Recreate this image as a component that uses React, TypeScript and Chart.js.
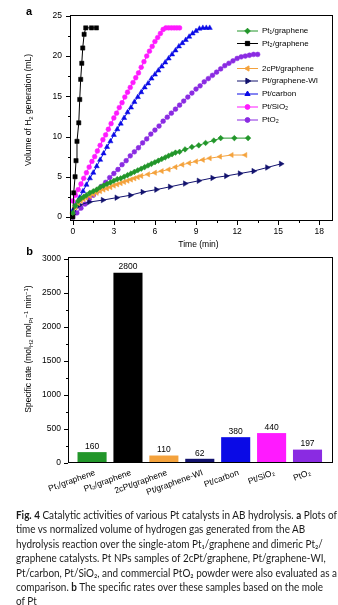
import React, { useEffect, useLayoutEffect, useRef } from 'react';
import { Chart, registerables } from 'chart.js';
import { drawPoint } from 'chart.js/helpers';

Chart.register(...registerables);

const FONT = '"Liberation Sans", Arial, Helvetica, sans-serif';

// ---------- Series names & colours ----------
const seriesNames = ['Pt₁/graphene', 'Pt₂/graphene', '2cPt/graphene', 'Pt/graphene-WI', 'Pt/carbon', 'Pt/SiO₂', 'PtO₂'];
const seriesColors = ['#22962a', '#000000', '#f4a23c', '#12126e', '#0a0ae6', '#ff1aff', '#8a2be2'];
const pointStyles = ['rectRot', 'rect', 'triangle', 'triangle', 'triangle', 'circle', 'circle'];
const pointRotations = [0, 0, -90, 90, 0, 0, 0];
const pointRadii = [2.8, 3, 3, 3.2, 3, 2.4, 2.4];

// ---------- Panel a: time (min) vs volume of H2 (mL) ----------
const pt1Time = [0, 0.2, 0.4, 0.6, 0.8, 1.0, 1.25, 1.5, 1.75, 2.0, 2.25, 2.5, 2.75, 3.0, 3.25, 3.5, 3.75, 4.0, 4.25, 4.5, 4.75, 5.0, 5.25, 5.5, 5.75, 6.0, 6.25, 6.5, 6.75, 7.0, 7.25, 7.5, 7.8, 8.2, 8.7, 9.2, 9.7, 10.3, 10.8, 11.8, 12.8];
const pt1Vol = [0.5, 1.4, 2.0, 2.3, 2.5, 2.7, 3.0, 3.2, 3.4, 3.7, 3.9, 4.1, 4.3, 4.5, 4.7, 4.8, 5.0, 5.2, 5.4, 5.6, 5.8, 6.0, 6.2, 6.4, 6.6, 6.8, 7.0, 7.2, 7.4, 7.6, 7.8, 8.0, 8.1, 8.4, 8.7, 8.9, 9.2, 9.5, 9.8, 9.8, 9.8];

const pt2Time = [0, 0.07, 0.17, 0.24, 0.31, 0.44, 0.51, 0.58, 0.66, 0.73, 0.83, 0.95, 1.37, 1.73];
const pt2Vol = [0, 3.0, 5.0, 7.0, 9.4, 11.7, 14.6, 17.1, 19.1, 21.0, 22.7, 23.5, 23.5, 23.5];

const cPtTime = [0, 0.2, 0.4, 0.6, 0.8, 1.0, 1.25, 1.5, 1.75, 2.0, 2.25, 2.5, 2.75, 3.0, 3.25, 3.5, 3.75, 4.0, 4.25, 4.5, 4.75, 5.0, 5.5, 6.0, 6.5, 7.0, 7.5, 8.0, 8.5, 9.0, 9.5, 10.0, 10.75, 11.6, 12.6];
const cPtVol = [0.4, 1.2, 1.7, 2.0, 2.2, 2.4, 2.6, 2.8, 3.0, 3.2, 3.4, 3.55, 3.7, 3.9, 4.05, 4.2, 4.35, 4.5, 4.65, 4.8, 4.95, 5.1, 5.3, 5.5, 5.7, 5.9, 6.2, 6.5, 6.7, 6.9, 7.1, 7.3, 7.5, 7.7, 7.7];

const wiTime = [0, 0.5, 1.2, 2.2, 3.2, 4.2, 5.1, 6.1, 7.1, 8.2, 9.2, 10.2, 11.2, 12.2, 13.2, 14.2, 15.2];
const wiVol = [0.3, 1.5, 1.85, 2.1, 2.4, 2.7, 3.1, 3.4, 3.75, 4.15, 4.5, 4.85, 5.1, 5.4, 5.7, 6.15, 6.6];

const carbonTime = [0, 0.25, 0.5, 0.75, 1.0, 1.25, 1.5, 1.75, 2.0, 2.25, 2.5, 2.75, 3.0, 3.25, 3.5, 3.75, 4.0, 4.25, 4.5, 4.75, 5.0, 5.25, 5.5, 5.75, 6.0, 6.25, 6.5, 6.75, 7.0, 7.25, 7.5, 7.75, 8.0, 8.25, 8.5, 8.75, 9.0, 9.25, 9.5, 9.75, 10.0];
const carbonVol = [0.8, 1.6, 2.4, 3.2, 4.0, 4.8, 5.5, 6.3, 7.1, 7.9, 8.7, 9.4, 10.2, 10.9, 11.6, 12.3, 13.0, 13.6, 14.3, 14.9, 15.5, 16.1, 16.6, 17.2, 17.7, 18.2, 18.7, 19.2, 19.7, 20.2, 20.7, 21.2, 21.6, 22.0, 22.4, 22.8, 23.1, 23.4, 23.5, 23.5, 23.5];

const sio2Time = [0, 0.2, 0.4, 0.6, 0.8, 1.0, 1.2, 1.4, 1.6, 1.8, 2.0, 2.2, 2.4, 2.6, 2.8, 3.0, 3.2, 3.4, 3.6, 3.8, 4.0, 4.2, 4.4, 4.6, 4.8, 5.0, 5.2, 5.4, 5.6, 5.8, 6.0, 6.2, 6.4, 6.6, 6.8, 7.0, 7.2, 7.4, 7.6, 7.8];
const sio2Vol = [2.0, 2.7, 3.4, 4.1, 4.8, 5.5, 6.2, 6.9, 7.5, 8.2, 8.9, 9.6, 10.2, 10.9, 11.6, 12.3, 12.9, 13.6, 14.2, 14.9, 15.5, 16.1, 16.7, 17.3, 17.9, 18.6, 19.3, 20.0, 20.6, 21.2, 21.8, 22.3, 22.8, 23.3, 23.5, 23.5, 23.5, 23.5, 23.5, 23.5];

const pto2Time = [0, 0.3, 0.6, 0.9, 1.2, 1.5, 1.8, 2.1, 2.4, 2.7, 3.0, 3.3, 3.6, 3.9, 4.2, 4.5, 4.8, 5.1, 5.4, 5.7, 6.0, 6.3, 6.6, 6.9, 7.2, 7.5, 7.8, 8.1, 8.4, 8.7, 9.0, 9.3, 9.6, 9.9, 10.2, 10.5, 10.8, 11.1, 11.4, 11.7, 12.0, 12.3, 12.6, 12.9, 13.2, 13.5];
const pto2Vol = [0, 0.5, 1.1, 1.6, 2.2, 2.7, 3.2, 3.8, 4.3, 4.9, 5.4, 5.9, 6.5, 7.0, 7.6, 8.1, 8.6, 9.2, 9.7, 10.3, 10.8, 11.3, 11.9, 12.4, 12.9, 13.4, 13.9, 14.4, 14.9, 15.4, 15.9, 16.3, 16.8, 17.2, 17.6, 18.0, 18.4, 18.8, 19.1, 19.4, 19.7, 19.9, 20.0, 20.1, 20.2, 20.2];

const seriesTimes = [pt1Time, pt2Time, cPtTime, wiTime, carbonTime, sio2Time, pto2Time];
const seriesVols = [pt1Vol, pt2Vol, cPtVol, wiVol, carbonVol, sio2Vol, pto2Vol];

const timeTicks = [0, 3, 6, 9, 12, 15, 18];
const volumeTicks = [0, 5, 10, 15, 20, 25];

// ---------- Panel b: specific rates ----------
const rateValues = [160, 2800, 110, 62, 380, 440, 197];
const rateTicks = [0, 500, 1000, 1500, 2000, 2500, 3000];

type Seg = { t: string; k?: 'sub' | 'sup' };

function drawRich(ctx: CanvasRenderingContext2D, segs: Seg[], cx: number, cy: number, size: number, rot: number) {
  ctx.save();
  ctx.translate(cx, cy);
  ctx.rotate(rot);
  const f = (s: number) => `${s}px ${FONT}`;
  let total = 0;
  const widths = segs.map((s) => {
    ctx.font = f(s.k ? size * 0.7 : size);
    const w = ctx.measureText(s.t).width;
    total += w;
    return w;
  });
  let x = -total / 2;
  ctx.textBaseline = 'middle';
  ctx.textAlign = 'left';
  ctx.fillStyle = '#000';
  segs.forEach((s, i) => {
    const sz = s.k ? size * 0.7 : size;
    ctx.font = f(sz);
    const dy = s.k === 'sub' ? size * 0.3 : s.k === 'sup' ? -size * 0.35 : 0;
    ctx.fillText(s.t, x, dy);
    x += widths[i];
  });
  ctx.restore();
}

function drawFrame(chart: any, xMajor: number[] | null, yMajor: number[], xMinorStep: number | null, yMinorStep: number, yLabelGap: number) {
  const { ctx, chartArea } = chart;
  const { left, right, top, bottom } = chartArea;
  const xs = chart.scales.x;
  const ys = chart.scales.y;
  ctx.save();
  ctx.strokeStyle = '#000';
  ctx.lineWidth = 1;
  ctx.strokeRect(Math.round(left) + 0.5, Math.round(top) + 0.5, Math.round(right - left) - 1, Math.round(bottom - top) - 1);
  ctx.beginPath();
  yMajor.forEach((v) => {
    const y = Math.round(ys.getPixelForValue(v)) + 0.5;
    ctx.moveTo(left, y);
    ctx.lineTo(left - 4, y);
  });
  for (let i = 0; i < yMajor.length - 1; i++) {
    const v = yMajor[i] + yMinorStep;
    const y = Math.round(ys.getPixelForValue(v)) + 0.5;
    ctx.moveTo(left, y);
    ctx.lineTo(left - 2, y);
  }
  if (xMajor) {
    xMajor.forEach((v) => {
      const x = Math.round(xs.getPixelForValue(v)) + 0.5;
      ctx.moveTo(x, bottom);
      ctx.lineTo(x, bottom + 4);
    });
    if (xMinorStep) {
      for (let i = 0; i < xMajor.length; i++) {
        const v = xMajor[i] + xMinorStep;
        if (v > xs.max) continue;
        const x = Math.round(xs.getPixelForValue(v)) + 0.5;
        ctx.moveTo(x, bottom);
        ctx.lineTo(x, bottom + 2);
      }
    }
  }
  ctx.stroke();
  ctx.fillStyle = '#000';
  ctx.font = `8.5px ${FONT}`;
  ctx.textAlign = 'right';
  ctx.textBaseline = 'middle';
  yMajor.forEach((v) => {
    ctx.fillText(String(v), left - yLabelGap, ys.getPixelForValue(v));
  });
  if (xMajor) {
    ctx.textAlign = 'center';
    xMajor.forEach((v) => {
      ctx.fillText(String(v), xs.getPixelForValue(v), bottom + 11);
    });
  }
  ctx.restore();
}

const panelAPlugin = {
  id: 'panelA',
  afterDraw(chart: any) {
    const { ctx } = chart;
    drawFrame(chart, timeTicks, volumeTicks, 1.5, 2.5, 8);
    ctx.save();
    ctx.fillStyle = '#000';
    ctx.font = `8.5px ${FONT}`;
    ctx.textAlign = 'center';
    ctx.textBaseline = 'middle';
    ctx.fillText('Time (min)', 198.5, 245);
    ctx.font = `bold 11px ${FONT}`;
    ctx.fillText('a', 29, 12);
    ctx.restore();
    drawRich(ctx, [{ t: 'Volume of H' }, { t: '2', k: 'sub' }, { t: ' generation (mL)' }], 29, 110, 8.5, -Math.PI / 2);
    const rows = [31, 43.5, 68.5, 81, 94, 107, 120];
    ctx.save();
    seriesNames.forEach((name, i) => {
      const y = rows[i];
      ctx.strokeStyle = seriesColors[i];
      ctx.fillStyle = seriesColors[i];
      ctx.lineWidth = 1;
      ctx.beginPath();
      ctx.moveTo(237, y);
      ctx.lineTo(258, y);
      ctx.stroke();
      drawPoint(ctx, { pointStyle: pointStyles[i] as any, rotation: pointRotations[i], radius: pointRadii[i], borderWidth: 1 }, 247.5, y);
      ctx.fillStyle = '#000';
      ctx.font = `8px ${FONT}`;
      ctx.textAlign = 'left';
      ctx.textBaseline = 'middle';
      ctx.fillText(name, 262, y);
    });
    ctx.restore();
  },
};

const panelBPlugin = {
  id: 'panelB',
  afterDraw(chart: any) {
    const { ctx } = chart;
    drawFrame(chart, null, rateTicks, null, 250, 7);
    const meta = chart.getDatasetMeta(0);
    ctx.save();
    ctx.fillStyle = '#000';
    ctx.font = `8.5px ${FONT}`;
    ctx.textAlign = 'center';
    ctx.textBaseline = 'middle';
    meta.data.forEach((el: any, i: number) => {
      ctx.fillText(String(rateValues[i]), el.x, el.y - 5.5);
    });
    meta.data.forEach((el: any, i: number) => {
      ctx.save();
      ctx.translate(el.x + 1.5, 228.5);
      ctx.rotate((-20 * Math.PI) / 180);
      ctx.textAlign = 'right';
      ctx.textBaseline = 'top';
      ctx.font = `8.5px ${FONT}`;
      ctx.fillText(seriesNames[i], 0, 0);
      ctx.restore();
    });
    ctx.font = `bold 11px ${FONT}`;
    ctx.fillText('b', 29.5, 12);
    ctx.restore();
    drawRich(
      ctx,
      [{ t: 'Specific rate (mol' }, { t: 'H2', k: 'sub' }, { t: ' mol' }, { t: 'Pt', k: 'sub' }, { t: '−1', k: 'sup' }, { t: ' min' }, { t: '−1', k: 'sup' }, { t: ')' }],
      29,
      109,
      8.5,
      -Math.PI / 2
    );
  },
};

function PanelA() {
  const ref = useRef<HTMLCanvasElement>(null);
  useEffect(() => {
    const datasets = seriesNames.map((name, i) => ({
      label: name,
      data: seriesTimes[i].map((t, j) => ({ x: t, y: seriesVols[i][j] })),
      borderColor: seriesColors[i],
      backgroundColor: seriesColors[i],
      pointBackgroundColor: seriesColors[i],
      pointBorderColor: seriesColors[i],
      pointStyle: pointStyles[i] as any,
      pointRotation: pointRotations[i],
      pointRadius: pointRadii[i],
      pointBorderWidth: 0.5,
      borderWidth: 1,
      tension: 0,
      showLine: true,
      clip: 4,
    }));
    const chart = new Chart(ref.current!, {
      type: 'line',
      data: { datasets },
      options: {
        animation: false,
        responsive: true,
        maintainAspectRatio: false,
        layout: { padding: { left: 70, right: 5, top: 15, bottom: 31 } },
        scales: {
          x: { type: 'linear', min: -0.2, max: 19, display: false },
          y: { type: 'linear', min: -0.5, max: 25.1, display: false },
        },
        plugins: { legend: { display: false }, tooltip: { enabled: false } },
      },
      plugins: [panelAPlugin],
    });
    return () => chart.destroy();
  }, []);
  return (
    <div style={{ position: 'absolute', left: 0, top: 0, width: 338, height: 252 }}>
      <canvas ref={ref} />
    </div>
  );
}

function PanelB() {
  const ref = useRef<HTMLCanvasElement>(null);
  useEffect(() => {
    const chart = new Chart(ref.current!, {
      type: 'bar',
      data: {
        datasets: [
          {
            label: 'Specific rate',
            data: rateValues.map((v, i) => ({ x: i + 1, y: v })),
            backgroundColor: seriesColors,
            borderWidth: 0,
            barPercentage: 0.81,
            categoryPercentage: 1,
          },
        ],
      },
      options: {
        animation: false,
        responsive: true,
        maintainAspectRatio: false,
        layout: { padding: { left: 68, right: 5, top: 17, bottom: 47 } },
        scales: {
          x: { type: 'linear', min: 0.33, max: 7.71, offset: false, display: false },
          y: { type: 'linear', min: 0, max: 3030, display: false },
        },
        plugins: { legend: { display: false }, tooltip: { enabled: false } },
      },
      plugins: [panelBPlugin],
    });
    return () => chart.destroy();
  }, []);
  return (
    <div style={{ position: 'absolute', left: 0, top: 240, width: 338, height: 270 }}>
      <canvas ref={ref} />
    </div>
  );
}

function Caption() {
  const boxRef = useRef<HTMLDivElement>(null);
  const lineRef = useRef<HTMLSpanElement>(null);
  useLayoutEffect(() => {
    const fit = () => {
      if (!boxRef.current || !lineRef.current) return;
      boxRef.current.style.transform = 'none';
      const w = lineRef.current.getBoundingClientRect().width;
      if (w > 0) boxRef.current.style.transform = `scaleX(${321 / w})`;
    };
    fit();
    if ((document as any).fonts && (document as any).fonts.ready) (document as any).fonts.ready.then(fit);
  }, []);
  const line: React.CSSProperties = { whiteSpace: 'nowrap', height: 14.4, lineHeight: '14.4px' };
  return (
    <div
      ref={boxRef}
      style={{
        position: 'absolute',
        left: 16,
        top: 508,
        fontFamily: 'Lato, "Open Sans", sans-serif',
        fontSize: 11,
        color: '#1a1a1a',
        transformOrigin: '0 0',
      }}
    >
      <div style={line}>
        <span ref={lineRef}>
          <b>Fig. 4</b> Catalytic activities of various Pt catalysts in AB hydrolysis. <b>a</b> Plots of
        </span>
      </div>
      <div style={line}>time vs normalized volume of hydrogen gas generated from the AB</div>
      <div style={line}>hydrolysis reaction over the single-atom Pt₁/graphene and dimeric Pt₂/</div>
      <div style={line}>graphene catalysts. Pt NPs samples of 2cPt/graphene, Pt/graphene-WI,</div>
      <div style={line}>Pt/carbon, Pt/SiO₂, and commercial PtO₂ powder were also evaluated as a</div>
      <div style={line}>
        comparison. <b>b</b> The specific rates over these samples based on the mole
      </div>
      <div style={line}>of Pt</div>
    </div>
  );
}

export default function App() {
  return (
    <div style={{ position: 'fixed', left: 0, top: 0, width: 338, height: 605, background: '#fff', overflow: 'hidden' }}>
      <PanelA />
      <PanelB />
      <Caption />
    </div>
  );
}
